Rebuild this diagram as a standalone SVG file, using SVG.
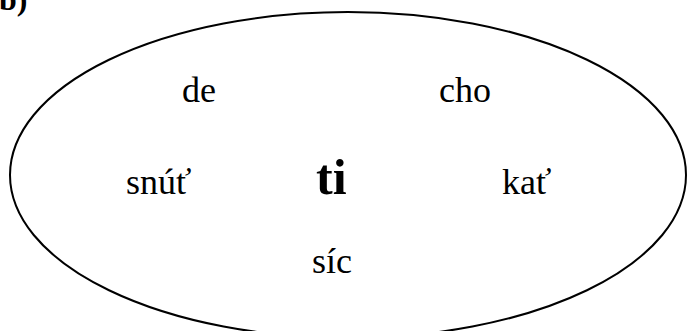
<svg xmlns="http://www.w3.org/2000/svg" width="687" height="331" viewBox="0 0 687 331">
<style>
.w{font-family:"Liberation Serif","Times New Roman",serif;font-size:36px;fill:#000}
.b{font-family:"Liberation Serif","Times New Roman",serif;font-weight:bold;fill:#000}
</style>
<rect width="687" height="331" fill="#fff"/>
<text class="b" x="-1" y="10" font-size="32">b)</text>
<g id="set">
<ellipse cx="348" cy="175" rx="338" ry="163" fill="none" stroke="#000" stroke-width="2"/>
</g>
<g id="connectors"></g>
<g id="de"><text class="w" x="182" y="102">de</text></g>
<g id="cho"><text class="w" x="439" y="102">cho</text></g>
<g id="snut"><text class="w" x="126" y="194">snúť</text></g>
<g id="ti"><text class="b" x="316" y="194" font-size="50">ti</text></g>
<g id="kat"><text class="w" x="502" y="194">kať</text></g>
<g id="sic"><text class="w" x="312" y="273">síc</text></g>
</svg>
